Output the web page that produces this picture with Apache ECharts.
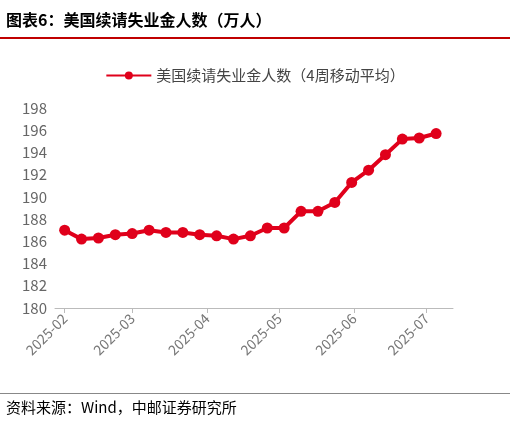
<!DOCTYPE html>
<html><head><meta charset="utf-8">
<script src="https://cdn.jsdelivr.net/npm/echarts@6/dist/echarts.min.js"></script>
<style>html,body{margin:0;padding:0;background:#fff}#c{width:510px;height:426px}</style>
</head><body><div id="c"></div>
<script>
const dates = ['2025-02-01','2025-02-08','2025-02-15','2025-02-22','2025-03-01','2025-03-08','2025-03-15','2025-03-22','2025-03-29','2025-04-05','2025-04-12','2025-04-19','2025-04-26','2025-05-03','2025-05-10','2025-05-17','2025-05-24','2025-05-31','2025-06-07','2025-06-14','2025-06-21','2025-06-28','2025-07-05'];
const values = [187.0,186.2,186.3,186.6,186.7,187.0,186.8,186.8,186.6,186.5,186.2,186.5,187.2,187.2,188.7,188.7,189.5,191.3,192.4,193.8,195.2,195.3,195.7];
const seriesName = '美国续请失业金人数（4周移动平均）';
const title = '图表6：美国续请失业金人数（万人）';
const source = '资料来源：Wind，中邮证券研究所';
const font = 'Noto Sans CJK SC';
const chart = echarts.init(document.getElementById('c'));
chart.setOption({
  animation:false,
  textStyle:{fontFamily:font},
  graphic:[
    {type:'text',left:6,top:12,style:{text:title,font:'bold 16px "Noto Sans CJK SC"',fill:'#000'}},
    {type:'rect',shape:{x:0,y:37,width:510,height:2},style:{fill:'#c00000'}},
    {type:'rect',shape:{x:0,y:393,width:510,height:1},style:{fill:'#888'}},
    {type:'text',left:6,top:400,style:{text:source,font:'15px "Noto Sans CJK SC"',fill:'#000'}}
  ],
  legend:{top:63,left:'center',itemWidth:45,itemHeight:10,textStyle:{fontSize:15,color:'#444',fontFamily:font},data:[seriesName]},
  grid:{left:55,right:57,top:108,bottom:118},
  xAxis:{type:'time',min:'2025-01-28',max:'2025-07-12',
    axisLine:{lineStyle:{color:'#bbb'}},axisTick:{show:true,lineStyle:{color:'#bbb'}},splitLine:{show:false},
    axisLabel:{rotate:45,fontSize:14,color:'#777',formatter:v=>{const d=new Date(v);return d.getFullYear()+'-'+String(d.getMonth()+1).padStart(2,'0');}},
    splitNumber:6,minInterval:28*86400000},
  yAxis:{type:'value',min:180,max:198,interval:2,axisLine:{show:false},axisTick:{show:false},splitLine:{show:false},
    axisLabel:{fontSize:15,color:'#666'}},
  series:[{name:seriesName,type:'line',data:dates.map((d,i)=>[d,values[i]]),symbol:'circle',symbolSize:11,
    lineStyle:{color:'#e0001b',width:4},itemStyle:{color:'#e0001b'}}]
});
</script></body></html>
